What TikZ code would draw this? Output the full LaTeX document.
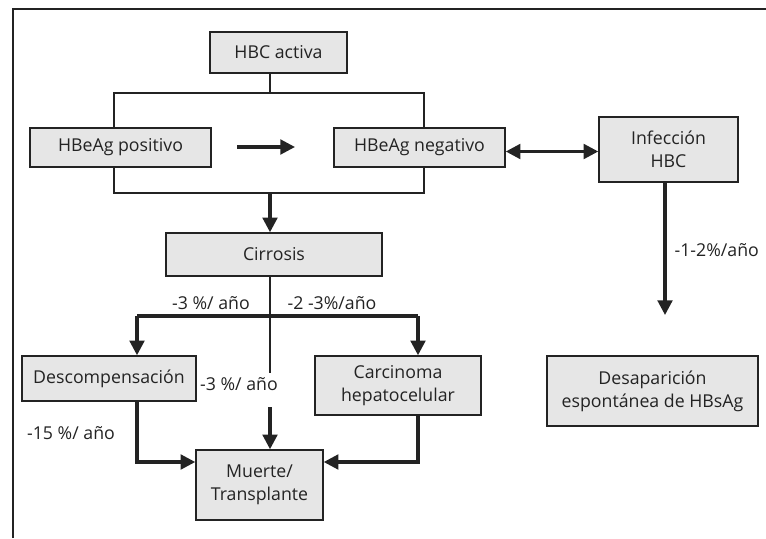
\documentclass[tikz,border=0pt]{standalone}
\usepackage{fontspec}
\setmainfont{Open Sans}
\usetikzlibrary{arrows.meta}
\definecolor{boxgray}{RGB}{230,230,230}
\definecolor{ink}{RGB}{35,35,35}
\tikzset{
  box/.style 2 args={draw=ink, fill=boxgray, line width=1.1pt, align=center, inner sep=0pt,
    minimum width=#1*0.75pt, minimum height=#2*0.75pt, text=ink, font=\fontsize{13.3}{17}\selectfont},
  rate/.style={text=ink, font=\fontsize{13.3}{17}\selectfont, inner sep=1pt},
  link/.style={draw=ink, line width=1.7pt},
  tip/.style={-{Triangle[length=11pt,width=11pt]}},
  arr/.style={link, line width=2.3pt, tip},
}
\begin{document}
\begin{tikzpicture}[x=0.75pt,y=-0.75pt]
\useasboundingbox (0,0) rectangle (766,538);
\draw[ink, line width=0.9pt] (13,538) -- (13,9) -- (766,9);
% boxes
\node[box={137}{41}] (act) at (278.5,52.5) {HBC activa};
\node[box={181}{39}] (pos) at (120.5,147.5) {HBeAg positivo};
\node[box={171}{39}] (neg) at (419.5,147.5) {HBeAg negativo};
\node[box={139}{65}] (inf) at (668.5,149.5) {Infección\\HBC};
\node[box={216}{43}] (cir) at (274,254.5) {Cirrosis};
\node[box={174}{45}] (des) at (109,378.5) {Descompensación};
\node[box={166}{59}] (car) at (398,385.5) {Carcinoma\\hepatocelular};
\node[box={127}{70}] (mue) at (259.5,485) {Muerte/\\Transplante};
\node[box={211}{70}] (hbs) at (652.5,391) {Desaparición\\espontánea de HBsAg};
% helper points
\coordinate (ta) at (270,93);
\coordinate (tl) at (114,93);
\coordinate (tr) at (424,93);
\coordinate (bl) at (114,193);
\coordinate (br) at (424,193);
\coordinate (ba) at (270,193);
\coordinate (pa) at (237,147);
\coordinate (pb) at (295,147);
\coordinate (ia) at (665,315);
\coordinate (c1) at (270,373);
\coordinate (c2) at (270,407);
\coordinate (sl) at (137,316);
\coordinate (sr) at (418,316);
\coordinate (dl) at (137,462);
\coordinate (dr) at (418,462);
% connectors
\draw[link] (act.south -| ta) -- (ta);
\draw[link] (pos.north -| tl) -- (tl) -- (tr) -- (neg.north -| tr);
\draw[link] (pos.south -| bl) -- (bl) -- (br) -- (neg.south -| br);
\draw[arr] (ba) -- (cir.north -| ba);
\draw[arr] (pa) -- (pb);
\draw[arr, {Triangle[length=11pt,width=11pt]}-{Triangle[length=11pt,width=11pt]}] ([yshift=-3pt]neg.east) -- ([yshift=-3pt]neg.east -| inf.west);
\draw[arr] (inf.south -| ia) -- (ia);
\draw[link, line width=1.2pt] (cir.south -| c1) -- (c1);
\draw[arr] (c2) -- (mue.north -| c2);
\draw[link, line width=2.3pt] (sl) -- (sr);
\draw[arr] (sl) -- (des.north -| sl);
\draw[arr] (sr) -- (car.north -| sr);
\draw[arr] (des.south -| dl) -- (dl) -- (dl -| mue.west);
\draw[arr] (car.south -| dr) -- (dr) -- (dr -| mue.east);
% rates
\node[rate] (r1) at (211,303) {-3 \%/ año};
\node[rate] (r2) at (332,303) {-2 -3\%/año};
\node[rate] (r3) at (239,384) {-3 \%/ año};
\node[rate] (r4) at (71,433) {-15 \%/ año};
\node[rate, anchor=west] (r5) at (673,250) {-1-2\%/año};
\end{tikzpicture}
\end{document}
